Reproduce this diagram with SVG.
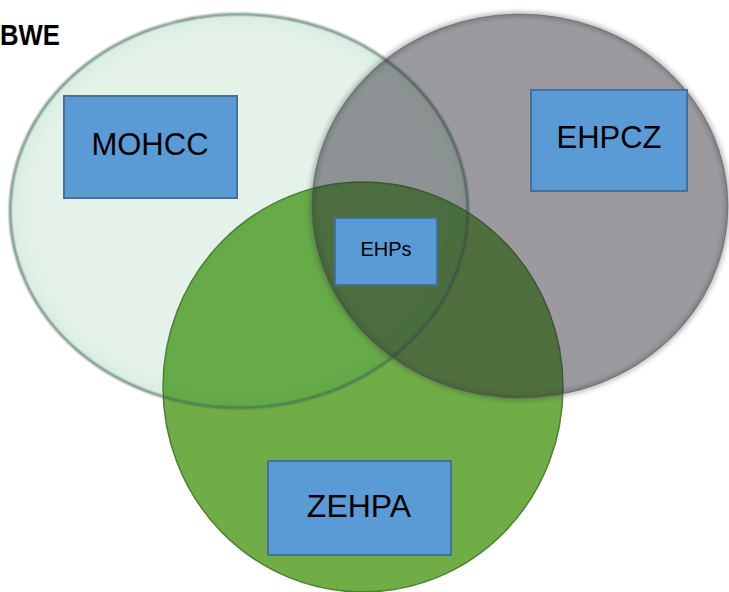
<svg xmlns="http://www.w3.org/2000/svg" width="729" height="592" viewBox="0 0 729 592">
<defs>
<style>
.box{fill:#5B9BD5;stroke:#41719C;stroke-width:2}
.lbl{font-family:"Liberation Sans",Arial,sans-serif;fill:#000;text-anchor:middle}
</style>
<radialGradient id="mint" cx="0.5" cy="0.5" r="0.5">
<stop offset="0.9" stop-color="rgb(30,147,80)" stop-opacity="0.12"/>
<stop offset="0.985" stop-color="rgb(30,147,80)" stop-opacity="0.16"/>
<stop offset="1" stop-color="rgb(30,147,80)" stop-opacity="0.3"/>
</radialGradient>
<filter id="soft" x="-10%" y="-10%" width="120%" height="120%"><feGaussianBlur stdDeviation="0.8"/></filter>
<filter id="shadow" x="-10%" y="-10%" width="120%" height="120%"><feGaussianBlur stdDeviation="2.5"/></filter>
</defs>
<rect width="729" height="592" fill="#fff"/>
<text x="0" y="45" font-family="'Liberation Sans',Arial,sans-serif" font-weight="bold" font-size="29" textLength="60" lengthAdjust="spacingAndGlyphs" fill="#000">BWE</text>
<g id="circle-zehpa">
<ellipse cx="363" cy="387" rx="200" ry="205" fill="#70AD47" stroke="#507E32" stroke-width="1.5"/>
</g>
<g id="circle-mohcc">
<ellipse cx="239" cy="211" rx="229" ry="197" fill="url(#mint)"/>
<ellipse cx="239" cy="211" rx="229" ry="197" fill="none" stroke="#3f5a4e" stroke-width="1.6" filter="url(#soft)"/>
</g>
<g id="circle-ehpcz">
<ellipse cx="520" cy="206" rx="208" ry="192" fill="rgb(46,44,54)" fill-opacity="0.48"/>
<ellipse cx="520" cy="206" rx="208" ry="192" fill="none" stroke="#333" stroke-opacity="0.55" stroke-width="3" filter="url(#shadow)"/>
<ellipse cx="520" cy="206" rx="208" ry="192" fill="none" stroke="#555" stroke-opacity="0.5" stroke-width="1"/>
</g>
<g id="node-mohcc">
<rect class="box" x="64" y="96" width="173" height="102"/>
<text class="lbl" x="150" y="155" font-size="31">MOHCC</text>
</g>
<g id="node-ehpcz">
<rect class="box" x="531" y="90" width="156" height="101"/>
<text class="lbl" x="609" y="148" font-size="31">EHPCZ</text>
</g>
<g id="node-ehps">
<rect class="box" x="335" y="218" width="102" height="67"/>
<text class="lbl" x="386" y="256" font-size="20">EHPs</text>
</g>
<g id="node-zehpa">
<rect class="box" x="268" y="461" width="183" height="94"/>
<text class="lbl" x="359" y="517" font-size="32">ZEHPA</text>
</g>
</svg>
